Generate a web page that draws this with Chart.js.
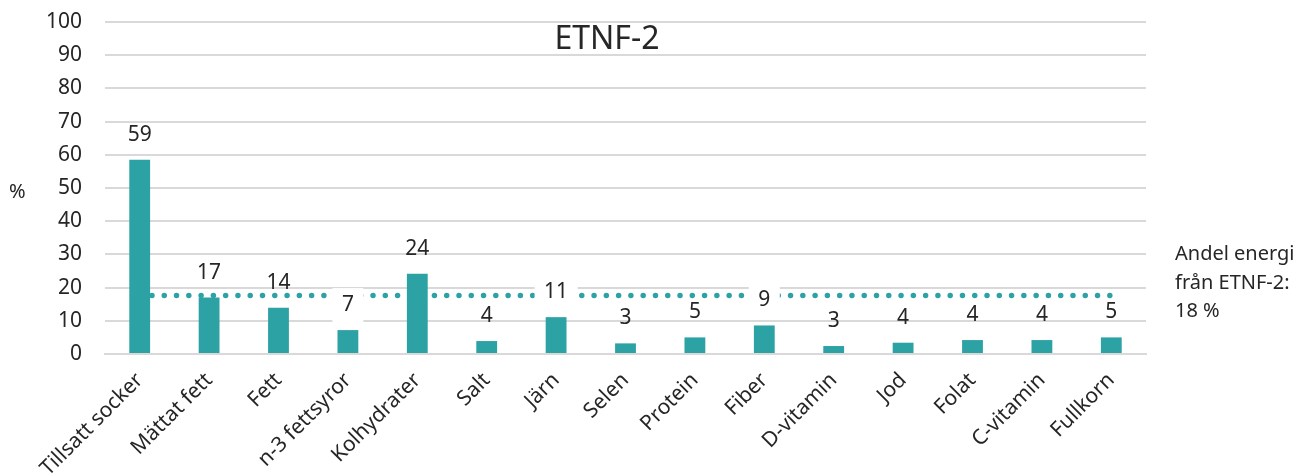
<!DOCTYPE html>
<html>
<head>
<meta charset="utf-8">
<script src="https://cdn.jsdelivr.net/npm/chart.js@4.4.1/dist/chart.umd.min.js"></script>
<style>
  html, body { margin: 0; padding: 0; background: #fff; }
  #wrap { width: 1299px; height: 476px; }
</style>
</head>
<body>
<div id="wrap"><canvas id="etnfChart" width="1299" height="476"></canvas></div>
<script>
// kategorier (x-axeln)
const categories = ['Tillsatt socker', 'Mättat fett', 'Fett', 'n-3 fettsyror', 'Kolhydrater', 'Salt', 'Järn',
  'Selen', 'Protein', 'Fiber', 'D-vitamin', 'Jod', 'Folat', 'C-vitamin', 'Fullkorn'];
// stapelhöjder (%)
const shares = [58.5, 17.0, 13.9, 7.2, 24.2, 3.9, 11.1, 3.2, 5.0, 8.6, 2.4, 3.4, 4.2, 4.2, 5.0];
// etiketterna ovanför staplarna, avrundade som i originalet
const shareLabels = ['59', '17', '14', '7', '24', '4', '11', '3', '5', '9', '3', '4', '4', '4', '5'];
// andel energi från ETNF-2 (prickad linje)
const energyShare = 17.6;
const energyText = ['Andel energi', 'från ETNF-2:', '18 %'];
const yTicks = { min: 0, max: 100, step: 10 };

const FONT = '"Noto Sans", "Open Sans", sans-serif';
const TEXT = '#262626';
const TEAL = '#2da2a4';

const ctx = document.getElementById('etnfChart').getContext('2d');

// ritar titel, "%" och texten till höger
const textPlugin = {
  id: 'texter',
  afterDraw(chart) {
    const c = chart.ctx;
    c.save();
    c.fillStyle = TEXT;
    c.font = '32px ' + FONT;
    c.textAlign = 'center';
    c.textBaseline = 'middle';
    c.fillText('ETNF-2', 607, 40);

    c.font = '20px ' + FONT;
    c.textAlign = 'left';
    c.textBaseline = 'alphabetic';
    c.fillText('%', 9, 198);

    energyText.forEach((t, i) => c.fillText(t, 1175, 260 + i * 28.5));
    c.restore();
  }
};

// värdeetiketter, vit bakgrund där de ligger på den prickade linjen
const labelPlugin = {
  id: 'etiketter',
  afterDatasetsDraw(chart) {
    const c = chart.ctx;
    const meta = chart.getDatasetMeta(0);
    const lineY = chart.scales.y.getPixelForValue(energyShare);
    c.save();
    c.font = '21px ' + FONT;
    c.textAlign = 'center';
    c.textBaseline = 'middle';
    meta.data.forEach((bar, i) => {
      const y = bar.y - 25;
      const txt = shareLabels[i];
      if (Math.abs(y - lineY) < 11) {
        const w = c.measureText(txt).width + 19;
        c.fillStyle = '#fff';
        c.fillRect(bar.x - w / 2, y - 17, w, 34);
      }
      c.fillStyle = TEXT;
      c.fillText(txt, bar.x, y);
    });
    c.restore();
  }
};

new Chart(ctx, {
  type: 'bar',
  data: {
    labels: categories,
    datasets: [{
      label: 'Andel',
      data: shares,
      backgroundColor: TEAL,
      categoryPercentage: 1,
      barPercentage: 0.3,
      order: 0
    }, {
      type: 'line',
      label: 'Andel energi',
      data: [{ x: categories[0], y: energyShare }, { x: categories[categories.length - 1], y: energyShare }],
      borderColor: TEAL,
      borderWidth: 5.5,
      borderDash: [0, 12.28],
      borderCapStyle: 'round',
      pointRadius: 0,
      fill: false,
      order: 1
    }]
  },
  options: {
    responsive: false,
    animation: false,
    layout: { padding: { top: 22, right: 153, left: 0, bottom: 0 } },
    plugins: {
      legend: { display: false },
      tooltip: { enabled: false },
      title: { display: false }
    },
    scales: {
      x: {
        grid: { display: false, drawTicks: false },
        border: { color: '#d9d9d9', width: 2 },
        afterFit(scale) { scale.height = 122; },
        ticks: {
          color: TEXT,
          font: { family: FONT, size: 21 },
          minRotation: 45,
          maxRotation: 45,
          padding: 14,
          autoSkip: false
        }
      },
      y: {
        min: yTicks.min,
        max: yTicks.max,
        afterFit(scale) { scale.width = 105; },
        // osynliga tickstreck ger avståndet mellan siffror och rutnät
        grid: { color: '#d9d9d9', lineWidth: 2, drawTicks: true, tickLength: 20, tickColor: 'rgba(0,0,0,0)' },
        border: { display: false },
        ticks: {
          stepSize: yTicks.step,
          color: TEXT,
          font: { family: FONT, size: 21 },
          padding: 3
        }
      }
    }
  },
  plugins: [textPlugin, labelPlugin]
});
</script>
</body>
</html>
